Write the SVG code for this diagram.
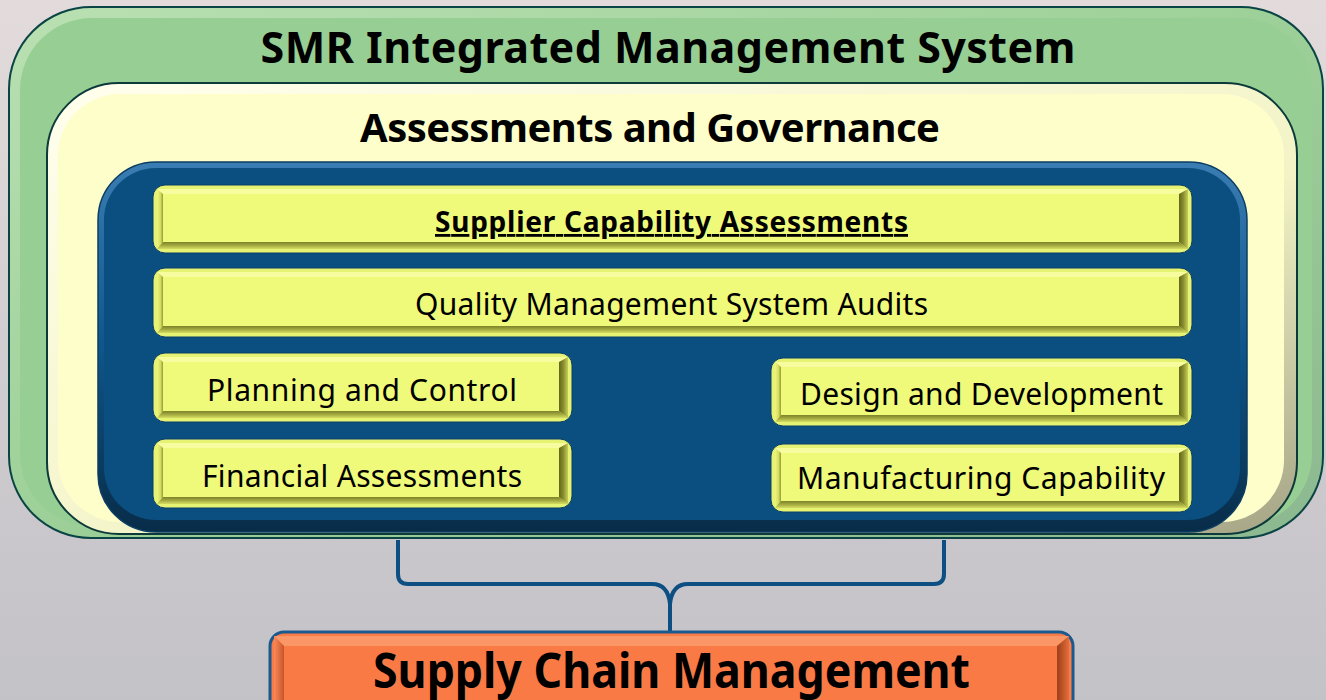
<svg xmlns="http://www.w3.org/2000/svg" width="1326" height="700" viewBox="0 0 1326 700">
<defs>
<linearGradient id="bg" x1="0" y1="0" x2="0" y2="1">
<stop offset="0" stop-color="#e3dbdb"/><stop offset="0.55" stop-color="#cfcccf"/><stop offset="1" stop-color="#c3c2c7"/>
</linearGradient>
<linearGradient id="greenRim" x1="0" y1="0" x2="1" y2="1">
<stop offset="0" stop-color="#b9e0b2"/><stop offset="0.5" stop-color="#9dd098"/><stop offset="1" stop-color="#8cb890"/>
</linearGradient>
<linearGradient id="creamRim" x1="0" y1="0" x2="1" y2="1">
<stop offset="0" stop-color="#ffffee"/><stop offset="0.6" stop-color="#f3f3c6"/><stop offset="1" stop-color="#a4a486"/>
</linearGradient>
<linearGradient id="blueRim" x1="0" y1="0" x2="0" y2="1">
<stop offset="0" stop-color="#3a7db3"/><stop offset="0.5" stop-color="#0e568a"/><stop offset="1" stop-color="#082c48"/>
</linearGradient>
<linearGradient id="bvLeft" x1="0" y1="0" x2="1" y2="0">
<stop offset="0" stop-color="#eef77c"/><stop offset="0.6" stop-color="#d3dc60"/><stop offset="1" stop-color="#939a36"/>
</linearGradient>
<linearGradient id="bvRight" x1="0" y1="0" x2="1" y2="0">
<stop offset="0" stop-color="#60661c"/><stop offset="0.5" stop-color="#8a9030"/><stop offset="1" stop-color="#c8cf56"/>
</linearGradient>
<linearGradient id="bvBottom" x1="0" y1="0" x2="0" y2="1">
<stop offset="0" stop-color="#7c822a"/><stop offset="0.5" stop-color="#a4aa40"/><stop offset="1" stop-color="#d6dd62"/>
</linearGradient>
<linearGradient id="obLeft" x1="0" y1="0" x2="1" y2="0">
<stop offset="0" stop-color="#fb8a58"/><stop offset="1" stop-color="#c8552a"/>
</linearGradient>
<linearGradient id="obRight" x1="0" y1="0" x2="1" y2="0">
<stop offset="0" stop-color="#9c3f18"/><stop offset="1" stop-color="#e56d3c"/>
</linearGradient>
<style>
.bar{fill:#e6f272;stroke:#0a3e68;stroke-width:1}
.bt{fill:#f7fc9e}
.bl{fill:url(#bvLeft)}
.br{fill:url(#bvRight)}
.bb{fill:url(#bvBottom)}
.bi{fill:#eff97a}
.t{font-family:"Noto Sans","Open Sans","Liberation Sans",sans-serif;fill:#000;text-anchor:middle}
.reg{font-size:30px;font-weight:400}
.bold{font-weight:700}
.brace{fill:none;stroke:#0d4f82;stroke-width:4;stroke-linejoin:round}
</style>
</defs>
<rect x="0" y="0" width="1326" height="700" fill="url(#bg)"/>

<g id="smr-ims">
<rect x="9" y="7" width="1314" height="531" rx="82" fill="url(#greenRim)" stroke="#0b4444" stroke-width="2"/>
<rect x="20" y="18" width="1292" height="508" rx="72" fill="#97ce93"/>
<text class="t bold" x="668" y="63" font-size="43" textLength="815">SMR Integrated Management System</text>
</g>

<g id="assessments-governance">
<rect x="47" y="83" width="1250" height="451" rx="72" fill="url(#creamRim)" stroke="#0c3a3a" stroke-width="2"/>
<rect x="58" y="94" width="1226" height="428" rx="62" fill="#fefecb"/>
<text class="t bold" x="650" y="142" font-size="40" textLength="580">Assessments and Governance</text>
</g>

<g id="inner-panel">
<rect x="98" y="162" width="1149" height="370" rx="58" fill="url(#blueRim)" stroke="#0b3d63" stroke-width="1.5"/>
<rect x="104" y="168" width="1136" height="352" rx="52" fill="#0a4f80"/>
</g>

<g id="supplier-capability">
<rect class="bar" x="153" y="185" width="1039" height="68" rx="12"/>
<polygon class="bt" points="157,189 1188,189 1179,194 163,194"/>
<polygon class="bl" points="157,189 163,194 163,242 157,249"/>
<polygon class="br" points="1179,194 1188,189 1188,249 1179,242"/>
<polygon class="bb" points="163,242 1179,242 1188,249 157,249"/>
<rect class="bi" x="163" y="194" width="1016" height="48"/>
<text class="t bold" x="671.5" y="232" font-size="28" textLength="473" text-decoration="underline">Supplier Capability Assessments</text>
</g>

<g id="qms-audits">
<rect class="bar" x="153" y="268" width="1039" height="69" rx="12"/>
<polygon class="bt" points="157,272 1188,272 1179,277 163,277"/>
<polygon class="bl" points="157,272 163,277 163,326 157,333"/>
<polygon class="br" points="1179,277 1188,272 1188,333 1179,326"/>
<polygon class="bb" points="163,326 1179,326 1188,333 157,333"/>
<rect class="bi" x="163" y="277" width="1016" height="49"/>
<text class="t reg" x="671.5" y="315" textLength="513">Quality Management System Audits</text>
</g>

<g id="planning-control">
<rect class="bar" x="153" y="353" width="419" height="69" rx="12"/>
<polygon class="bt" points="157,357 568,357 559,362 163,362"/>
<polygon class="bl" points="157,357 163,362 163,411 157,418"/>
<polygon class="br" points="559,362 568,357 568,418 559,411"/>
<polygon class="bb" points="163,411 559,411 568,418 157,418"/>
<rect class="bi" x="163" y="362" width="396" height="49"/>
<text class="t reg" x="362" y="401" textLength="310">Planning and Control</text>
</g>

<g id="financial-assessments">
<rect class="bar" x="153" y="439" width="419" height="69" rx="12"/>
<polygon class="bt" points="157,443 568,443 559,448 163,448"/>
<polygon class="bl" points="157,443 163,448 163,497 157,504"/>
<polygon class="br" points="559,448 568,443 568,504 559,497"/>
<polygon class="bb" points="163,497 559,497 568,504 157,504"/>
<rect class="bi" x="163" y="448" width="396" height="49"/>
<text class="t reg" x="362" y="487" textLength="320">Financial Assessments</text>
</g>

<g id="design-development">
<rect class="bar" x="771" y="358" width="421" height="68" rx="12"/>
<polygon class="bt" points="775,362 1188,362 1179,367 781,367"/>
<polygon class="bl" points="775,362 781,367 781,415 775,422"/>
<polygon class="br" points="1179,367 1188,362 1188,422 1179,415"/>
<polygon class="bb" points="781,415 1179,415 1188,422 775,422"/>
<rect class="bi" x="781" y="367" width="398" height="48"/>
<text class="t reg" x="981.5" y="405" textLength="363">Design and Development</text>
</g>

<g id="manufacturing-capability">
<rect class="bar" x="771" y="444" width="421" height="68" rx="12"/>
<polygon class="bt" points="775,448 1188,448 1179,453 781,453"/>
<polygon class="bl" points="775,448 781,453 781,501 775,508"/>
<polygon class="br" points="1179,453 1188,448 1188,508 1179,501"/>
<polygon class="bb" points="781,501 1179,501 1188,508 775,508"/>
<rect class="bi" x="781" y="453" width="398" height="48"/>
<text class="t reg" x="981" y="489" textLength="368">Manufacturing Capability</text>
</g>

<g id="connectors">
<path class="brace" d="M398 540 V574 Q398 584 408 584 H652 Q668 584 670 604 V632"/>
<path class="brace" d="M944 540 V574 Q944 584 934 584 H688 Q672 584 670 604"/>
</g>

<g id="supply-chain-management">
<rect x="270" y="632" width="803" height="90" rx="14" fill="#f97b47" stroke="#1b5a8e" stroke-width="3"/>
<polygon fill="#fb9767" points="274,636 1069,636 1057,646 284,646"/>
<polygon fill="url(#obLeft)" points="274,636 284,646 284,700 274,700"/>
<polygon fill="url(#obRight)" points="1057,646 1069,636 1069,700 1057,700"/>
<rect x="284" y="646" width="773" height="60" fill="#fa7a46"/>
<text class="t bold" x="671.5" y="688" font-size="48" textLength="597" lengthAdjust="spacingAndGlyphs">Supply Chain Management</text>
</g>
</svg>
